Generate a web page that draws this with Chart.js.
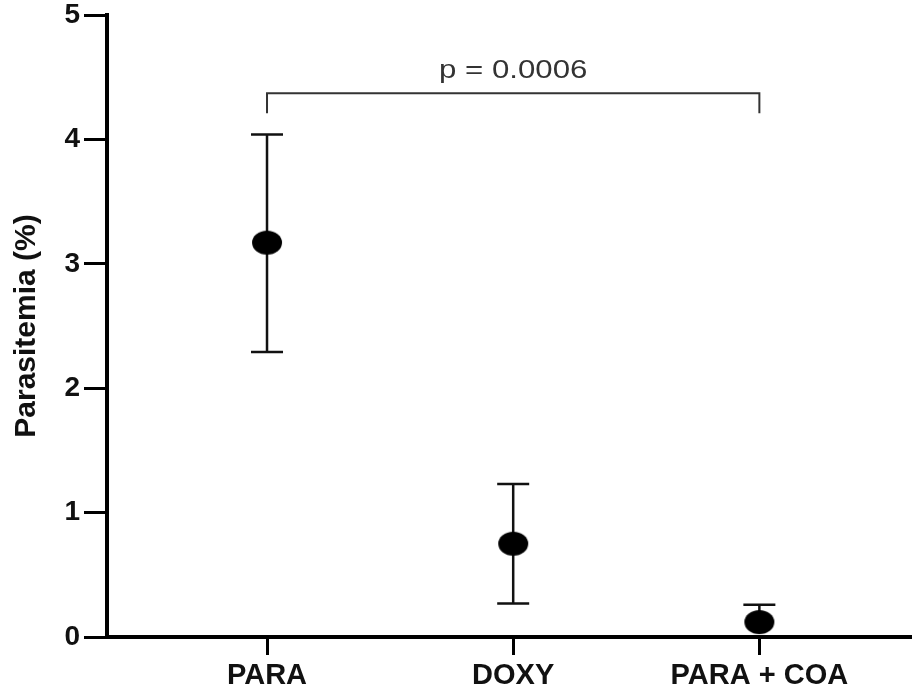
<!DOCTYPE html>
<html>
<head>
<meta charset="utf-8">
<script src="https://cdn.jsdelivr.net/npm/chart.js@4"></script>
<style>
  html, body { margin: 0; padding: 0; background: #fff; overflow: hidden; }
  #wrap { width: 912px; height: 690px; }
  canvas { display: block; }
</style>
</head>
<body>
<div id="wrap"><canvas id="chart" width="912" height="690"></canvas></div>
<script>
const categories = ['PARA', 'DOXY', 'PARA + COA'];
const means = [3.17, 0.75, 0.12];
const upper = [4.04, 1.23, 0.26];
const lower = [2.29, 0.27, 0.12];
const yTicks = [0, 1, 2, 3, 4, 5];

// significance bracket between first and last group
const pText = 'p = 0.0006';
const bracketFrom = 0;
const bracketTo = 2;
const bracketY = 4.37;
const bracketFoot = 4.21;

const FONT = "'Liberation Sans', Arial, sans-serif";

// filled ellipse used as the point marker
function makeMarker() {
  const c = document.createElement('canvas');
  c.width = 32; c.height = 26;
  const g = c.getContext('2d');
  g.fillStyle = '#000';
  g.beginPath();
  g.ellipse(16, 13, 15, 12, 0, 0, Math.PI * 2);
  g.fill();
  return c;
}

const errorBars = {
  id: 'errorBars',
  beforeDatasetsDraw(chart) {
    const { ctx, scales: { x, y } } = chart;
    ctx.save();
    ctx.strokeStyle = '#111';
    ctx.lineWidth = 2.5;
    means.forEach((m, i) => {
      const px = x.getPixelForValue(i);
      const top = y.getPixelForValue(upper[i]);
      const bot = y.getPixelForValue(lower[i]);
      ctx.beginPath();
      ctx.moveTo(px, top); ctx.lineTo(px, bot);
      ctx.moveTo(px - 16, top); ctx.lineTo(px + 16, top);
      if (lower[i] < m) { ctx.moveTo(px - 16, bot); ctx.lineTo(px + 16, bot); }
      ctx.stroke();
    });
    ctx.restore();
  },
  afterDatasetsDraw(chart) {
    const { ctx, scales: { x, y } } = chart;
    const x1 = x.getPixelForValue(bracketFrom);
    const x2 = x.getPixelForValue(bracketTo);
    const yb = y.getPixelForValue(bracketY);
    const yf = y.getPixelForValue(bracketFoot);
    ctx.save();
    ctx.strokeStyle = '#333';
    ctx.lineWidth = 2;
    ctx.beginPath();
    ctx.moveTo(x1, yf); ctx.lineTo(x1, yb); ctx.lineTo(x2, yb); ctx.lineTo(x2, yf);
    ctx.stroke();
    // label is a bit wider than the font in the original
    ctx.translate((x1 + x2) / 2, yb - 23);
    ctx.scale(1.2, 1);
    ctx.fillStyle = '#333';
    ctx.font = '26px ' + FONT;
    ctx.textAlign = 'center';
    ctx.textBaseline = 'middle';
    ctx.fillText(pText, 0, 0);
    ctx.restore();
  }
};

new Chart(document.getElementById('chart'), {
  type: 'scatter',
  data: {
    datasets: [{
      data: means.map((m, i) => ({ x: i, y: m })),
      pointStyle: makeMarker(),
      pointRadius: 15,
      pointHoverRadius: 15
    }]
  },
  options: {
    responsive: false,
    animation: false,
    layout: { autoPadding: false, padding: { top: 15, right: 0, left: 0, bottom: 0 } },
    plugins: { legend: { display: false }, tooltip: { enabled: false } },
    scales: {
      x: {
        type: 'linear',
        min: -0.65,
        max: 2.62,
        afterBuildTicks: s => { s.ticks = categories.map((c, i) => ({ value: i })); },
        afterFit: s => { s.height = 53; s.paddingLeft = 0; s.paddingRight = 0; },
        border: { color: '#000', width: 4 },
        grid: { drawOnChartArea: false, color: '#000', tickLength: 18, tickWidth: 3 },
        ticks: {
          color: '#111',
          padding: 4,
          maxRotation: 0,
          font: { family: FONT, size: 29, weight: 'bold' },
          callback: v => categories[v]
        }
      },
      y: {
        min: 0,
        max: 5,
        afterBuildTicks: s => { s.ticks = yTicks.map(v => ({ value: v })); },
        afterFit: s => { s.width = 107; s.paddingTop = 0; s.paddingBottom = 0; },
        border: { color: '#000', width: 4 },
        grid: { drawOnChartArea: false, color: '#000', tickLength: 23, tickWidth: 3 },
        ticks: {
          color: '#111',
          padding: 4,
          font: { family: FONT, size: 28, weight: 'bold' }
        },
        title: {
          display: true,
          text: 'Parasitemia (%)',
          color: '#111',
          padding: { top: 9, bottom: 0 },
          font: { family: FONT, size: 30, weight: 'bold' }
        }
      }
    }
  },
  plugins: [errorBars]
});
</script>
</body>
</html>
